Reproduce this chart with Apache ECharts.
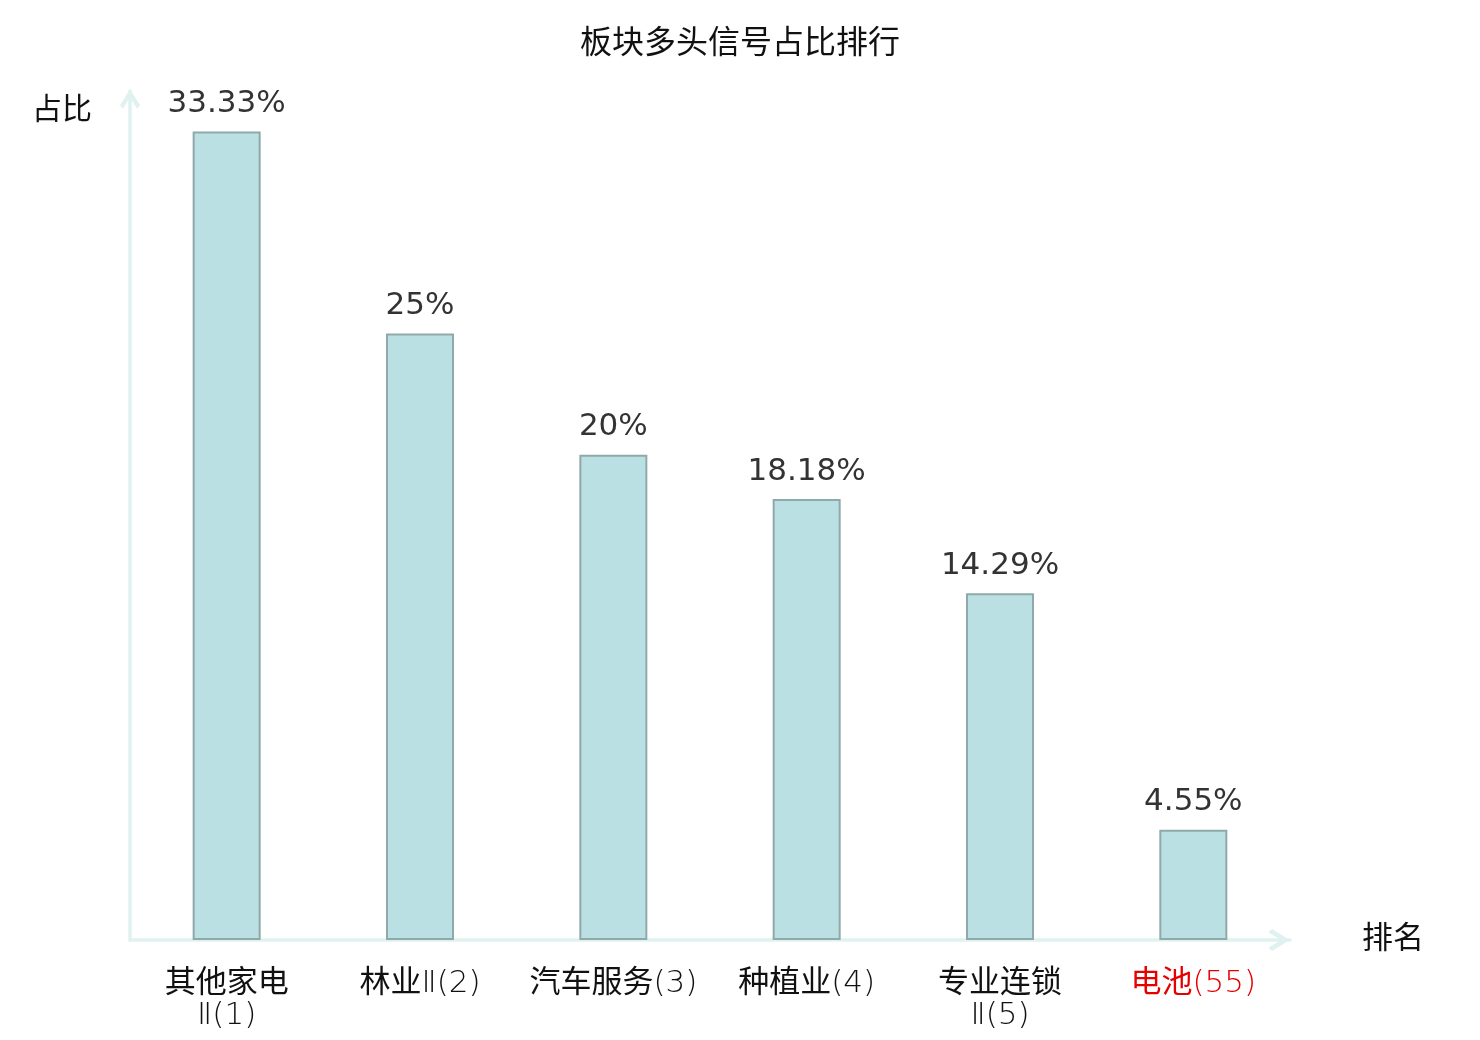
<!DOCTYPE html>
<html>
<head>
    <meta charset="utf-8">
    <script src="https://cdn.jsdelivr.net/npm/echarts@6/dist/echarts.min.js"></script>
</head>
<body style="height: 100%; margin: 0">
<div id="container" style="height: 1040px; width: 1480px;"></div>
<script>

// 板块名称（含排名）
var categories = ['其他家电Ⅱ(1)', '林业Ⅱ(2)', '汽车服务(3)', '种植业(4)', '专业连锁Ⅱ(5)', '电池(55)'];
// 多头信号占比 (%)
var ratios = [33.33, 25, 20, 18.18, 14.29, 4.55];
// 需要标红的板块
var highlight = '电池(55)';

var dom = document.getElementById("container");
var myChart = echarts.init(dom);

// open chevron arrow for the axis ends
var chevron = 'path://M10,0 L20,16 L17,19.5 L10,8 L3,19.5 L0,16 Z';

// name longer than 4 chars goes onto two lines, rank stays with the tail;
// chinese chars in normal weight, the rest thin
function wrapName(value) {
    var m = value.match(/^(.*?)(\(\d+\))$/);
    var name = m ? m[1] : value;
    var rank = m ? m[2] : '';
    var lines = [];
    for (var i = 0; i < name.length; i += 4) {
        lines.push(name.slice(i, i + 4));
    }
    lines[lines.length - 1] += rank;
    return lines.map(function (line) {
        return line.split(/([\u4e00-\u9fff]+)/).filter(function (s) { return s; })
            .map(function (s) {
                return /[\u4e00-\u9fff]/.test(s) ? '{c|' + s + '}' : '{l|' + s + '}';
            }).join('');
    }).join('\n');
}

var option = {
    textStyle: {
        fontFamily: "'DejaVu Sans', 'Noto Sans CJK SC', sans-serif"
    },
    title: {
        text: '板块多头信号占比排行',
        left: 'center',
        top: 24,
        textStyle: {
            fontSize: 32,
            fontWeight: 'normal',
            color: '#111'
        }
    },
    grid: {
        left: 130,
        right: 190,
        top: 91,
        bottom: 100
    },
    xAxis: {
        type: 'category',
        data: categories,
        name: '排名',
        nameLocation: 'end',
        nameGap: 72,
        nameTextStyle: {
            fontSize: 31,
            color: '#111'
        },
        axisLine: {
            symbol: ['none', chevron],
            symbolSize: [22, 22],
            symbolOffset: [0, -11],
            lineStyle: { color: '#dff2ef', width: 3.5 }
        },
        axisTick: { show: false },
        axisLabel: {
            interval: 0,
            margin: 28,
            fontSize: 31,
            lineHeight: 32,
            formatter: wrapName,
            color: function (value) {
                return value === highlight ? '#e60000' : '#111';
            },
            rich: {
                c: { fontSize: 31, lineHeight: 32, fontWeight: 'normal' },
                l: { fontSize: 31, lineHeight: 32, fontWeight: 200 }
            }
        }
    },
    yAxis: {
        type: 'value',
        min: 0,
        max: 35,
        name: '占比',
        nameLocation: 'end',
        nameGap: -35,
        nameTextStyle: {
            fontSize: 30,
            color: '#111',
            align: 'right',
            padding: [0, 38, 0, 0]
        },
        axisLine: {
            show: true,
            symbol: ['none', chevron],
            symbolSize: [20, 22],
            symbolOffset: [0, -8],
            lineStyle: { color: '#dff2ef', width: 3.5 }
        },
        axisTick: { show: false },
        axisLabel: { show: false },
        splitLine: { show: false }
    },
    series: [{
        type: 'bar',
        data: ratios,
        barWidth: 68,
        itemStyle: {
            color: '#bbe0e3',
            borderColor: '#8fa9ab',
            borderWidth: 2
        },
        label: {
            show: true,
            position: 'top',
            distance: 12,
            fontSize: 31,
            color: '#333',
            formatter: function (p) { return p.value + '%'; }
        }
    }]
};

myChart.setOption(option);

</script>
</body>
</html>
